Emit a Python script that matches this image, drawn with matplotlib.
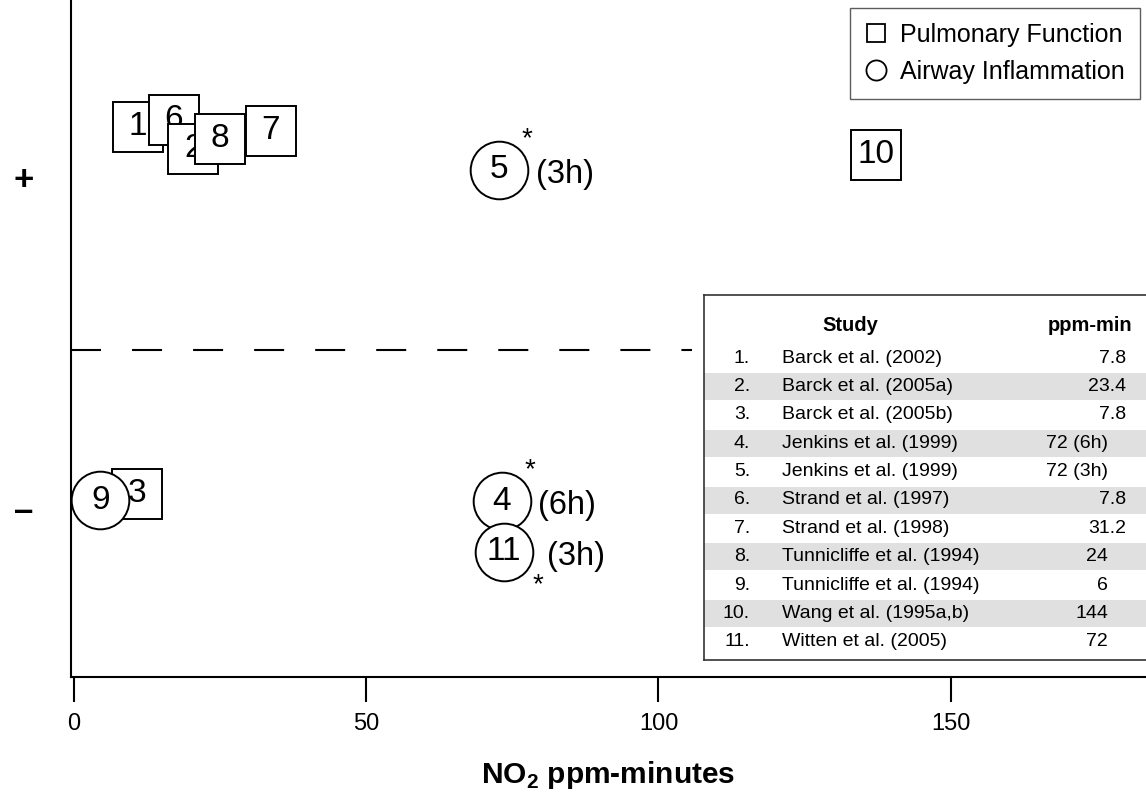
import matplotlib
matplotlib.use('Agg')
import matplotlib.pyplot as plt
from matplotlib.lines import Line2D

plt.rcParams['font.family'] = ['Liberation Sans', 'DejaVu Sans']
plt.rcParams['mathtext.fontset'] = 'custom'
plt.rcParams['mathtext.rm'] = 'Liberation Sans'
plt.rcParams['mathtext.bf'] = 'Liberation Sans:bold'

# studies (table)
study_ids = [1, 2, 3, 4, 5, 6, 7, 8, 9, 10, 11]
study_names = ['Barck et al. (2002)', 'Barck et al. (2005a)', 'Barck et al. (2005b)',
               'Jenkins et al. (1999)', 'Jenkins et al. (1999)', 'Strand et al. (1997)',
               'Strand et al. (1998)', 'Tunnicliffe et al. (1994)', 'Tunnicliffe et al. (1994)',
               'Wang et al. (1995a,b)', 'Witten et al. (2005)']
ppm_min = ['7.8', '23.4', '7.8', '72 (6h)', '72 (3h)', '7.8', '31.2', '24', '6', '144', '72']

# plotted symbols, in drawing order
sym_id = [1, 6, 2, 8, 7, 10, 3, 9, 5, 4, 11]
sym_kind = ['s', 's', 's', 's', 's', 's', 's', 'o', 'o', 'o', 'o']
sym_x = [11.0, 17.1, 20.4, 25.0, 33.7, 137.2, 10.8, 4.5, 72.7, 73.2, 73.6]
sym_y = [1.343, 1.386, 1.211, 1.271, 1.319, 1.175, -0.867, -0.904, 1.084, -0.910, -1.217]

# notes next to circles 5, 4 and 11
note_id = [5, 4, 11]
note_txt = ['(3h)', '(6h)', '(3h)']
star_up = [True, True, False]

xticks = [0, 50, 100, 150]
ylevels = [1.04, -0.95]
ylabels = ['+', '\u2013']

fig = plt.figure(figsize=(11.46, 7.93), dpi=100)
ax = fig.add_axes([71/1146, 116/793, 1075/1146, 677/793])
ax.set_xlim(-0.5, 183.4)
ax.set_ylim(-1.97, 2.108)
for s in ['top', 'right']:
    ax.spines[s].set_visible(False)
ax.spines['left'].set_linewidth(1.5)
ax.spines['bottom'].set_linewidth(1.5)

ax.set_xticks(xticks)
ax.set_xticklabels([str(t) for t in xticks], fontsize=17)
ax.tick_params(axis='x', length=18, width=1.5, pad=8)
ax.set_yticks(ylevels)
ax.set_yticklabels(ylabels, fontsize=25, fontweight='bold')
ax.tick_params(axis='y', length=0, pad=27)
ax.set_xlabel(r'NO$_\mathbf{2}$ ppm-minutes', fontsize=21.5, fontweight='bold', labelpad=17)

ax.hlines(0, -0.5, 105.7, colors='k', lw=1.5, linestyles=(0, (14.4, 14.9)))

z = 3
for i, k, x, y in zip(sym_id, sym_kind, sym_x, sym_y):
    ms = 36.5 if k == 's' else 41.5
    ax.plot(x, y, marker=k, ms=ms, mfc='white', mec='k', mew=1.4, zorder=z, ls='none')
    ax.text(x, y, str(i), fontsize=24, ha='center', va='center', zorder=z + 0.5)
    z += 1

for i, t, up in zip(note_id, note_txt, star_up):
    j = sym_id.index(i)
    x, y = sym_x[j], sym_y[j]
    dx = 26 if i == 4 else 27
    if i == 11:
        dx = 31
    ax.annotate(t, (x, y), xytext=(dx, -3), textcoords='offset points',
                fontsize=23.5, ha='left', va='center', zorder=20)
    off = (20, 22) if up else (24, -24)
    ax.annotate('*', (x, y), xytext=off, textcoords='offset points',
                fontsize=20, ha='center', va='center', zorder=20)

handles = [Line2D([], [], marker='s', ls='none', ms=13.5, mfc='white', mec='k', mew=1.3),
           Line2D([], [], marker='o', ls='none', ms=14.5, mfc='white', mec='k', mew=1.3)]
leg = ax.legend(handles, ['Pulmonary Function', 'Airway Inflammation'], loc='upper right',
                bbox_to_anchor=(1140/1146, 1 - 8/793), bbox_transform=fig.transFigure,
                fontsize=18, frameon=True, fancybox=False, borderpad=0.6,
                handlelength=0.85, handletextpad=0.55, labelspacing=0.5, borderaxespad=0)
leg.get_frame().set_edgecolor('#333333')
leg.get_frame().set_linewidth(1.0)

# study table
tax = fig.add_axes([704/1146, (793-660)/793, 442/1146, 365/793])
tax.set_xlim(0, 442)
tax.set_ylim(365, 0)
tax.set_xticks([])
tax.set_yticks([])
for s in ['left', 'top', 'bottom']:
    tax.spines[s].set_linewidth(1.2)
    tax.spines[s].set_color('#333333')
tax.spines['right'].set_visible(False)

tax.text(146, 30, 'Study', fontsize=14.5, fontweight='bold', ha='center', va='center')
tax.text(386, 30, 'ppm-min', fontsize=14.5, fontweight='bold', ha='center', va='center')
for r, (i, name, v) in enumerate(zip(study_ids, study_names, ppm_min)):
    yc = 63 + 28.4 * r
    if r % 2 == 1:
        tax.axhspan(yc - 13.5, yc + 13.5, color='#e0e0e0', lw=0, zorder=0)
    tax.text(46, yc, f'{i}.', fontsize=14, ha='right', va='center')
    tax.text(78, yc, name, fontsize=14, ha='left', va='center')
    xr = 422 if '.' in v else 404
    tax.text(xr, yc, v, fontsize=14, ha='right', va='center')

fig.savefig('out.png', dpi=100)
